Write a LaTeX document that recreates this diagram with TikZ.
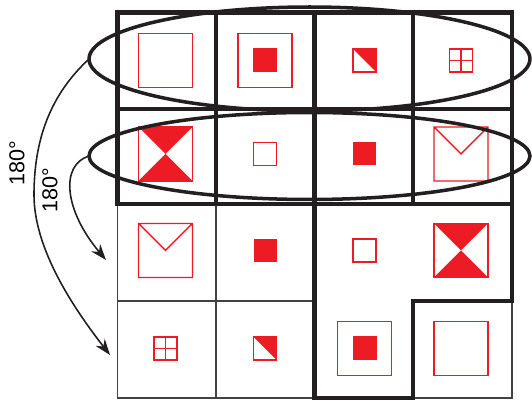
\documentclass[tikz,border=0pt]{standalone}
\usepackage{fontspec}
\setmainfont{Liberation Sans}
\usetikzlibrary{positioning,arrows.meta,shapes.geometric}
\definecolor{symred}{HTML}{ED1C24}
\definecolor{ink}{HTML}{231F20}

\tikzset{
  sym/.style={draw=symred, line width=0.8pt},
  frame/.pic={\draw[sym] (-27,-27) rectangle (27,27);},
  inset/.pic={\draw[sym] (-27,-27) rectangle (27,27);
              \fill[symred] (-12,-12) rectangle (12,12);},
  dot/.pic={\fill[symred] (-11.5,-11.5) rectangle (11.5,11.5);},
  hollow/.pic={\draw[sym] (-11.5,-11.5) rectangle (11.5,11.5);},
  half/.pic={\fill[symred] (-11.5,-11.5) -- (11.5,-11.5) -- (11.5,11.5) -- cycle;
             \draw[sym] (-11.5,-11.5) rectangle (11.5,11.5);},
  window/.pic={\draw[sym] (-11.5,-11.5) rectangle (11.5,11.5)
                (0,-11.5) -- (0,11.5) (-11.5,0) -- (11.5,0);},
  hourglass/.pic={\fill[symred] (-27,-27) -- (27,-27) -- (0,0) -- cycle
                   (-27,27) -- (27,27) -- (0,0) -- cycle;
                  \draw[sym] (-27,-27) rectangle (27,27);},
  envelope/.pic={\draw[sym] (-27,-27) rectangle (27,27) (-27,-27) -- (0,0) -- (27,-27);},
}

\begin{document}
\begin{tikzpicture}[
  x=0.02cm, y=-0.02cm,
  fine/.style={draw=ink!85, line width=0.75pt},
  heavy/.style={draw=ink, line width=2.5pt, line cap=rect},
  ring/.style={draw=ink, ellipse, line width=2pt, inner sep=0pt, outer sep=0pt},
  turn/.style={draw=ink, line width=0.9pt, -{Stealth[length=3.2mm, width=2.3mm]}},
  lbl/.style={font=\fontsize{12.3}{14}\selectfont, inner sep=0pt, rotate=90},
]
  \useasboundingbox (0,0) rectangle (532,401);

  % lower half, thin grid
  \draw[fine] (117.5,204) -- (117.5,398) -- (314.5,398)
              (117.5,301) -- (314.5,301) (216,204) -- (216,398)
              (413,398) -- (512,398) -- (512,301);

  % upper half and the L-shaped block
  \draw[heavy] (117.5,12.5) rectangle (512,204) (117.5,109) -- (512,109);
  \foreach \x in {216,314.5,413}
    \draw[heavy] (\x,12.5) -- (\x,204);
  \draw[heavy] (314.5,204) -- (314.5,398) -- (413,398) -- (413,301)
               -- (512,301) -- (512,204);

  % symbols
  \pic at (165.5,60.5) {frame};
  \pic at (265,60.5)   {inset};
  \pic at (364.5,60.5) {half};
  \pic at (461,60.5)   {window};
  \pic at (165.5,154)  {hourglass};
  \pic at (265,154)    {hollow};
  \pic at (364.5,154)  {dot};
  \pic at (461,154)    {envelope};
  \pic at (165.5,250.5) {envelope};
  \pic at (265,250.5)  {dot};
  \pic at (364.5,250.5) {hollow};
  \pic at (461,250.5)  {hourglass};
  \pic at (165.5,348.5) {window};
  \pic at (265,348.5)  {half};
  \pic at (364.5,348.5) {inset};
  \pic at (461,348.5)  {frame};

  \node[ring, minimum width=8.82cm, minimum height=2.08cm] (ringA) at (309.5,59) {};
  \node[ring, minimum width=8.82cm, minimum height=1.74cm] (ringB) at (309.5,156) {};

  \coordinate (dropA) at (110,355);
  \coordinate (dropB) at (106,260);

  \draw[turn] (ringA.west) .. controls (50,95) and (34,140) .. (34,195)
              .. controls (34,250) and (75,310) .. (dropA);
  \draw[turn] (ringB.west) .. controls (60,165) and (64,210) .. (dropB);

  \node[lbl] (degA) at (17,163) {180°};
  \node[lbl] (degB) at (50,190) {180°};
\end{tikzpicture}
\end{document}
